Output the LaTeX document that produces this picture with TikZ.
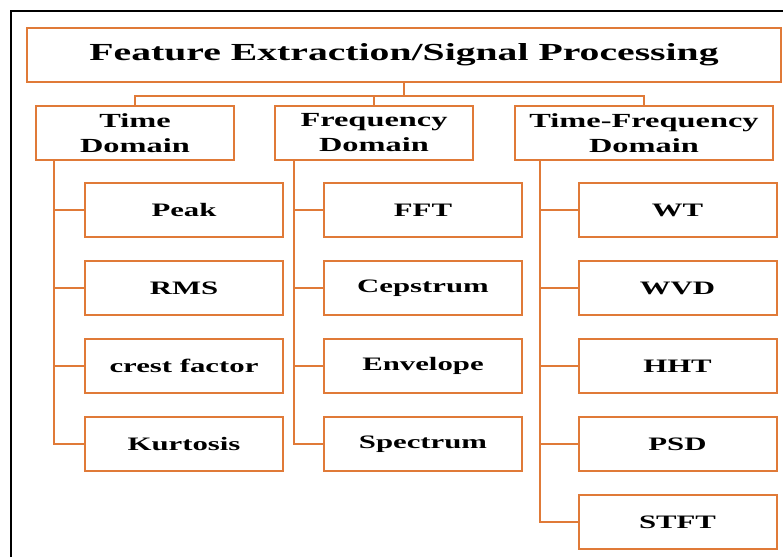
\documentclass[tikz,border=0pt]{standalone}
\usepackage{fontspec}
\setmainfont{Liberation Serif}[FakeStretch=1.62]
\usetikzlibrary{positioning,calc}
\definecolor{boxorange}{HTML}{E07A38}

\tikzset{
  topbox/.style={draw=boxorange,line width=2pt,minimum width=754pt,minimum height=54pt,
    font=\fontsize{24.5}{28}\selectfont\bfseries},
  domainbox/.style={draw=boxorange,line width=2pt,minimum width=198pt,minimum height=54pt,
    align=center,inner sep=0pt,font=\fontsize{20}{25}\selectfont\bfseries},
  leafbox/.style={draw=boxorange,line width=2pt,minimum width=198pt,minimum height=54pt,
    inner sep=0pt,font=\fontsize{19}{22}\selectfont\bfseries},
  link/.style={draw=boxorange,line width=1.4pt}
}

\begin{document}
\begin{tikzpicture}[x=1pt,y=-1pt]
  \useasboundingbox (0,0) rectangle (783,557);
  % outer frame
  \draw[line width=1.4pt] (11,557) -- (11,11) -- (783,11);

  \node[topbox] (title) at (404,55) {Feature Extraction/Signal Processing};

  \node[domainbox] (time) at (135,133) {Time\\Domain};
  \node[domainbox] (freq) at (374,133) {Frequency\\Domain};
  \node[domainbox,minimum width=258pt] (tfreq) at (644,133) {Time-Frequency\\Domain};

  % time domain features
  \node[leafbox] (peak) at (184,210) {Peak};
  \node[leafbox] (rms) at (184,288) {RMS};
  \node[leafbox] (crest) at (184,366) {crest factor};
  \node[leafbox] (kurt) at (184,444) {Kurtosis};
  % frequency domain features
  \node[leafbox] (fft) at (423,210) {FFT};
  \node[leafbox] (ceps) at (423,288) {Cepstrum};
  \node[leafbox] (env) at (423,366) {Envelope};
  \node[leafbox] (spec) at (423,444) {Spectrum};
  % time-frequency features
  \node[leafbox] (wt) at (677.5,210) {WT};
  \node[leafbox] (wvd) at (677.5,288) {WVD};
  \node[leafbox] (hht) at (677.5,366) {HHT};
  \node[leafbox] (psd) at (677.5,444) {PSD};
  \node[leafbox] (stft) at (677.5,522) {STFT};

  % bus from the title
  \draw[link] (title.south) -- ++(0,13) coordinate (bus) -| (time.north);
  \draw[link] (bus) -| (freq.north);
  \draw[link] (bus) -| (tfreq.north);

  % trunks and branches
  \coordinate (ttrunk) at ($(time.south west)+(19,0)$);
  \coordinate (ftrunk) at ($(freq.south west)+(20,0)$);
  \coordinate (tftrunk) at ($(tfreq.south west)+(26,0)$);
  \foreach \leaf in {peak,rms,crest,kurt}
    \draw[link] (ttrunk) |- (\leaf.west);
  \foreach \leaf in {fft,ceps,env,spec}
    \draw[link] (ftrunk) |- (\leaf.west);
  \foreach \leaf in {wt,wvd,hht,psd,stft}
    \draw[link] (tftrunk) |- (\leaf.west);
\end{tikzpicture}
\end{document}
